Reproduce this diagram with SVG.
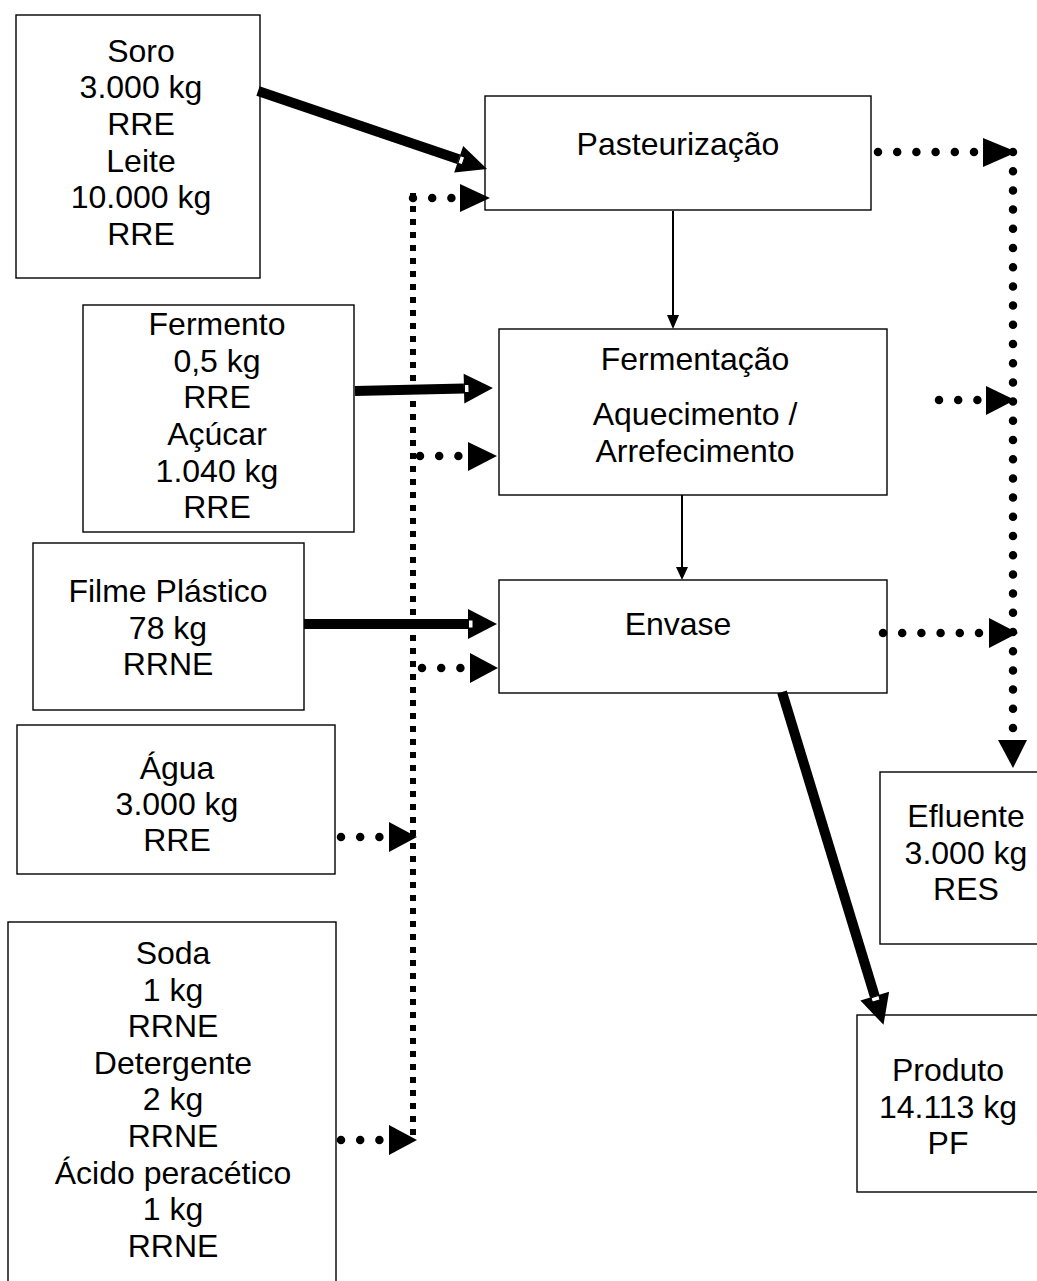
<svg xmlns="http://www.w3.org/2000/svg" width="1037" height="1281" viewBox="0 0 1037 1281">
  <style>
    .box { fill: #fff; stroke: #000; stroke-width: 1.4; }
    .lbl { font-family: "Liberation Sans", Arial, sans-serif; font-size: 32px; fill: #000; text-anchor: middle; }
    .round { fill: none; stroke: #000; stroke-width: 8.5; stroke-linecap: round; stroke-dasharray: 0 19.2; }
    .square { fill: none; stroke: #000; stroke-width: 6; stroke-dasharray: 6 7; }
    .head { fill: #000; }
    .thin { fill: none; stroke: #000; stroke-width: 2; }
    .slit { fill: #fff; stroke: #000; stroke-width: 1; }
  </style>
  <rect width="1037" height="1281" fill="#fff"/>

  <!-- process and material boxes -->
  <g id="soro-leite">
    <rect class="box" x="16" y="15" width="244" height="263"/>
    <text class="lbl" x="141" y="62">Soro</text>
    <text class="lbl" x="141" y="98">3.000 kg</text>
    <text class="lbl" x="141" y="135">RRE</text>
    <text class="lbl" x="141" y="172">Leite</text>
    <text class="lbl" x="141" y="208">10.000 kg</text>
    <text class="lbl" x="141" y="245">RRE</text>
  </g>
  <g id="pasteurizacao">
    <rect class="box" x="485" y="96" width="386" height="114"/>
    <text class="lbl" x="678" y="155">Pasteurização</text>
  </g>
  <g id="fermento-acucar">
    <rect class="box" x="83" y="305" width="271" height="227"/>
    <text class="lbl" x="217" y="335">Fermento</text>
    <text class="lbl" x="217" y="372">0,5 kg</text>
    <text class="lbl" x="217" y="408">RRE</text>
    <text class="lbl" x="217" y="445">Açúcar</text>
    <text class="lbl" x="217" y="482">1.040 kg</text>
    <text class="lbl" x="217" y="518">RRE</text>
  </g>
  <g id="fermentacao">
    <rect class="box" x="499" y="329" width="388" height="166"/>
    <text class="lbl" x="695" y="370">Fermentação</text>
    <text class="lbl" x="695" y="425">Aquecimento /</text>
    <text class="lbl" x="695" y="462">Arrefecimento</text>
  </g>
  <g id="filme-plastico">
    <rect class="box" x="33" y="543" width="271" height="167"/>
    <text class="lbl" x="168" y="602">Filme Plástico</text>
    <text class="lbl" x="168" y="639">78 kg</text>
    <text class="lbl" x="168" y="675">RRNE</text>
  </g>
  <g id="envase">
    <rect class="box" x="499" y="580" width="388" height="113"/>
    <text class="lbl" x="678" y="635">Envase</text>
  </g>
  <g id="agua">
    <rect class="box" x="17" y="725" width="318" height="149"/>
    <text class="lbl" x="177" y="779">Água</text>
    <text class="lbl" x="177" y="815">3.000 kg</text>
    <text class="lbl" x="177" y="851">RRE</text>
  </g>
  <g id="limpeza">
    <rect class="box" x="8" y="922" width="328" height="370"/>
    <text class="lbl" x="173" y="964">Soda</text>
    <text class="lbl" x="173" y="1001">1 kg</text>
    <text class="lbl" x="173" y="1037">RRNE</text>
    <text class="lbl" x="173" y="1074">Detergente</text>
    <text class="lbl" x="173" y="1110">2 kg</text>
    <text class="lbl" x="173" y="1147">RRNE</text>
    <text class="lbl" x="173" y="1184">Ácido peracético</text>
    <text class="lbl" x="173" y="1220">1 kg</text>
    <text class="lbl" x="173" y="1257">RRNE</text>
  </g>
  <g id="efluente">
    <rect class="box" x="880" y="772" width="170" height="172"/>
    <text class="lbl" x="966" y="827">Efluente</text>
    <text class="lbl" x="966" y="864">3.000 kg</text>
    <text class="lbl" x="966" y="900">RES</text>
  </g>
  <g id="produto">
    <rect class="box" x="857" y="1015" width="190" height="177"/>
    <text class="lbl" x="948" y="1081">Produto</text>
    <text class="lbl" x="948" y="1118">14.113 kg</text>
    <text class="lbl" x="948" y="1154">PF</text>
  </g>

  <g id="connectors">
    <!-- main material flows: thick shaft, head, small slit at the joint -->
    <g transform="translate(258 91) rotate(18.81)">
      <rect x="0" y="-5" width="212" height="10"/>
      <polygon class="head" points="212,-14 242,0 212,14"/>
      <rect class="slit" x="212.5" y="-4" width="4.5" height="8"/>
    </g>
    <g transform="translate(355 391) rotate(-1.25)">
      <rect x="0" y="-5" width="109" height="10"/>
      <polygon class="head" points="109,-15 138,0 109,15"/>
      <rect class="slit" x="109.5" y="-4" width="4.5" height="8"/>
    </g>
    <g transform="translate(304 624)">
      <rect x="0" y="-5" width="164" height="10"/>
      <polygon class="head" points="164,-15 193,0 164,15"/>
      <rect class="slit" x="164.5" y="-4" width="4.5" height="8"/>
    </g>
    <g transform="translate(782 692) rotate(73.04)">
      <rect x="0" y="-5" width="318" height="10"/>
      <polygon class="head" points="318,-15 348,0 318,15"/>
      <rect class="slit" x="318.5" y="-4" width="4.5" height="8"/>
    </g>

    <!-- process sequence -->
    <line class="thin" x1="673" y1="211" x2="673" y2="318"/>
    <polygon class="head" points="667,315 679,315 673,329"/>
    <line class="thin" x1="682" y1="495" x2="682" y2="569"/>
    <polygon class="head" points="676,567 688,567 682,580"/>

    <!-- utilities supply line (water and cleaning agents) -->
    <line class="square" x1="413" y1="193" x2="413" y2="1140"/>
    <line class="round" x1="413" y1="198" x2="452" y2="198"/>
    <polygon class="head" points="460,184 490,198 460,212"/>
    <line class="round" x1="420" y1="456" x2="459" y2="456"/>
    <polygon class="head" points="468,442 497,456 468,471"/>
    <line class="round" x1="422" y1="668" x2="461" y2="668"/>
    <polygon class="head" points="470,653 498,668 470,683"/>
    <line class="round" x1="341" y1="837" x2="380" y2="837"/>
    <polygon class="head" points="389,822 417,837 389,852"/>
    <line class="round" x1="341" y1="1140" x2="380" y2="1140"/>
    <polygon class="head" points="389,1125 417,1140 389,1155"/>

    <!-- effluent collection line -->
    <line class="round" x1="878" y1="152" x2="975" y2="152"/>
    <polygon class="head" points="983,138 1017,152 983,167"/>
    <line class="round" x1="939" y1="400" x2="978" y2="400"/>
    <polygon class="head" points="986,386 1015,400 986,415"/>
    <line class="round" x1="883" y1="633" x2="980" y2="633"/>
    <polygon class="head" points="989,618 1018,633 989,648"/>
    <line class="round" x1="1013" y1="152" x2="1013" y2="729"/>
    <polygon class="head" points="998,740 1027,740 1013,768"/>
  </g>
</svg>
